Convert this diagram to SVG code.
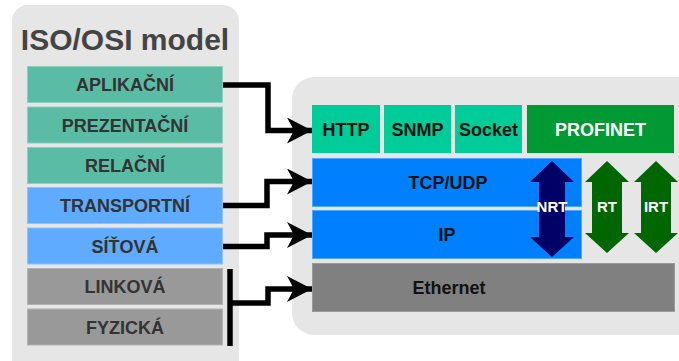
<svg xmlns="http://www.w3.org/2000/svg" width="679" height="361" viewBox="0 0 679 361">
  <defs>
    <style>
      .panel { fill: #e6e6e6; }
      .osi { stroke-width: 1; }
      .teal { fill: #5bbca6; stroke: #8ccfbf; }
      .lblue { fill: #5eabff; stroke: #8cc3ff; }
      .lgray { fill: #999999; stroke: #b3b3b3; }
      .osi-text { font-family: "Liberation Sans", Arial, sans-serif; font-weight: bold; font-size: 18px; fill: #333333; text-anchor: middle; }
      .title { font-family: "Liberation Sans", Arial, sans-serif; font-weight: bold; font-size: 30px; fill: #444444; text-anchor: middle; }
      .proto { font-family: "Liberation Sans", Arial, sans-serif; font-weight: bold; font-size: 18px; fill: #111111; text-anchor: middle; }
      .white { fill: #ffffff; }
      .app { fill: #00cc99; }
      .pnet { fill: #009933; }
      .blue { fill: #0080ff; stroke: #4da6ff; stroke-width: 1; }
      .eth { fill: #808080; stroke: #9a9a9a; stroke-width: 1; }
      .nrt { fill: #000066; }
      .rt { fill: #006600; }
      .arrow-label { font-family: "Liberation Sans", Arial, sans-serif; font-weight: bold; font-size: 15px; fill: #ffffff; text-anchor: middle; }
      .wire { fill: none; stroke: #000000; stroke-width: 5.5; stroke-linejoin: miter; }
    </style>
    <marker id="head" markerUnits="userSpaceOnUse" markerWidth="26" markerHeight="26" refX="25" refY="13" orient="auto" viewBox="0 0 26 26">
      <path d="M0,0 L25,13 L0,26 L7,13 Z" fill="#000000"/>
    </marker>
  </defs>

  <!-- ISO/OSI panel -->
  <rect class="panel" x="12" y="5" width="227" height="370" rx="16"/>
  <text class="title" x="125" y="50">ISO/OSI model</text>

  <g id="aplikacni">
    <rect class="osi teal" x="27.5" y="66.5" width="195" height="36"/>
    <text class="osi-text" x="125" y="91">APLIKAČNÍ</text>
  </g>
  <g id="prezentacni">
    <rect class="osi teal" x="27.5" y="107" width="195" height="36"/>
    <text class="osi-text" x="125" y="131.5">PREZENTAČNÍ</text>
  </g>
  <g id="relacni">
    <rect class="osi teal" x="27.5" y="147.5" width="195" height="36"/>
    <text class="osi-text" x="125" y="172">RELAČNÍ</text>
  </g>
  <g id="transportni">
    <rect class="osi lblue" x="27.5" y="187.5" width="195" height="36"/>
    <text class="osi-text" x="125" y="212">TRANSPORTNÍ</text>
  </g>
  <g id="sitova">
    <rect class="osi lblue" x="27.5" y="228" width="195" height="36"/>
    <text class="osi-text" x="125" y="252.5">SÍŤOVÁ</text>
  </g>
  <g id="linkova">
    <rect class="osi lgray" x="27.5" y="268.5" width="195" height="36"/>
    <text class="osi-text" x="125" y="293">LINKOVÁ</text>
  </g>
  <g id="fyzicka">
    <rect class="osi lgray" x="27.5" y="309" width="195" height="36"/>
    <text class="osi-text" x="125" y="333.5">FYZICKÁ</text>
  </g>

  <!-- Protocol stack panel -->
  <rect class="panel" x="292" y="77" width="420" height="258" rx="22"/>

  <g id="http">
    <rect class="app" x="312" y="105" width="68" height="48"/>
    <text class="proto" x="346" y="136">HTTP</text>
  </g>
  <g id="snmp">
    <rect class="app" x="384" y="105" width="67" height="48"/>
    <text class="proto" x="417.5" y="136">SNMP</text>
  </g>
  <g id="socket">
    <rect class="app" x="455" y="105" width="67" height="48"/>
    <text class="proto" x="488.5" y="136">Socket</text>
  </g>
  <g id="profinet">
    <rect class="pnet" x="527" y="105" width="147" height="48"/>
    <text class="proto white" x="600.5" y="136">PROFINET</text>
  </g>
  <g id="tcpudp">
    <rect class="blue" x="312.5" y="158.5" width="269" height="48"/>
    <text class="proto" x="448" y="189">TCP/UDP</text>
  </g>
  <g id="ip">
    <rect class="blue" x="312.5" y="210.5" width="269" height="48"/>
    <text class="proto" x="447" y="241">IP</text>
  </g>
  <g id="ethernet">
    <rect class="eth" x="312.5" y="263.5" width="362" height="48"/>
    <text class="proto" x="449" y="294">Ethernet</text>
  </g>

  <!-- Real-time channels -->
  <g id="nrt">
    <path class="nrt" d="M552,161 L574,182 L565,182 L565,237 L574,237 L552,257 L530,237 L539,237 L539,182 L530,182 Z"/>
    <text class="arrow-label" x="552" y="212">NRT</text>
  </g>
  <g id="rt">
    <path class="rt" d="M607,161 L629,182 L622,182 L622,233 L629,233 L607,253 L585,233 L592,233 L592,182 L585,182 Z"/>
    <text class="arrow-label" x="607" y="212">RT</text>
  </g>
  <g id="irt">
    <path class="rt" d="M656,161 L678,182 L671,182 L671,233 L678,233 L656,253 L634,233 L641,233 L641,182 L634,182 Z"/>
    <text class="arrow-label" x="656" y="212">IRT</text>
  </g>

  <!-- Layer mapping connectors -->
  <g id="connectors">
    <path class="wire" d="M223,85 L268,85 L268,130.5 L312,130.5" marker-end="url(#head)"/>
    <path class="wire" d="M223,205.5 L267,205.5 L267,181.5 L312,181.5" marker-end="url(#head)"/>
    <path class="wire" d="M223,246.5 L267,246.5 L267,235 L312,235" marker-end="url(#head)"/>
    <path class="wire" d="M230,269 L230,346"/>
    <path class="wire" d="M230,303 L268,303 L268,289 L312,289" marker-end="url(#head)"/>
  </g>
</svg>
